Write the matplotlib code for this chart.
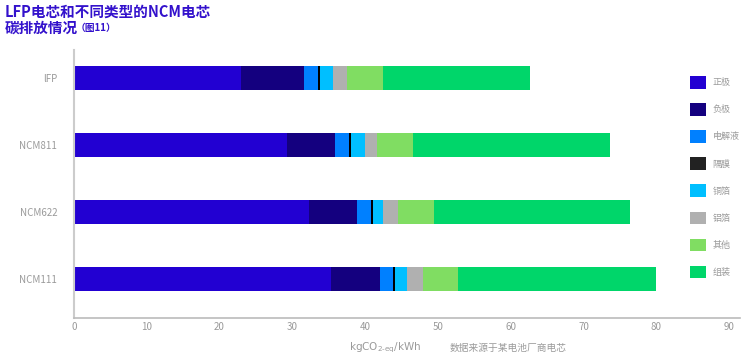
import matplotlib
matplotlib.use("Agg")
import matplotlib.pyplot as plt
from matplotlib.patches import Patch
import numpy as np

plt.rcParams['font.family'] = ['Noto Sans CJK SC', 'DejaVu Sans']

categories = ["lFP", "NCM811", "NCM622", "NCM111"]
components = ["正极", "负极", "电解液", "隔膜", "铜箔", "铝箔", "其他", "组装"]
values = {
    "正极": [23.0, 29.3, 32.3, 35.3],
    "负极": [8.6, 6.55, 6.6, 6.7],
    "电解液": [1.9, 1.95, 1.9, 1.8],
    "隔膜": [0.3, 0.25, 0.3, 0.3],
    "铜箔": [1.8, 1.95, 1.3, 1.6],
    "铝箔": [1.9, 1.6, 2.1, 2.2],
    "其他": [4.9, 5.0, 4.95, 4.8],
    "组装": [20.2, 27.0, 26.95, 27.2],
}
bar_colors = ["#2200D2", "#14007F", "#0080FF", "#000000", "#00BFFF", "#B0B0B0", "#80DD62", "#00D66A"]
legend_colors = ["#2200D2", "#14007F", "#0080FF", "#222222", "#00BFFF", "#B0B0B0", "#80DD62", "#00D66A"]
xticks = [0, 10, 20, 30, 40, 50, 60, 70, 80, 90]

fig = plt.figure(figsize=(7.41, 3.58), dpi=100)
ax = fig.add_axes([74/741, 1-318/358, (740-74)/741, (318-50)/358])

y = np.arange(len(categories))
left = np.zeros(len(categories))
for comp, col in zip(components, bar_colors):
    v = np.array(values[comp])
    ax.barh(y, v, left=left, height=0.36, color=col, linewidth=0)
    left += v

ax.set_xlim(0, 91.5)
ax.set_ylim(3.58, -0.42)
ax.set_yticks(y)
ax.set_yticklabels(categories)
ax.set_xticks(xticks)
ax.tick_params(axis='both', length=0, labelsize=7, labelcolor="#9a9a9a")
ax.tick_params(axis='x', pad=3)
ax.tick_params(axis='y', pad=12)
for s in ["top", "right"]:
    ax.spines[s].set_visible(False)
ax.spines["left"].set_color("#cccccc")
ax.spines["left"].set_linewidth(1.5)
ax.spines["bottom"].set_color("#bbbbbb")
ax.spines["bottom"].set_linewidth(1.2)

handles = [Patch(facecolor=c, edgecolor='none', label=l) for c, l in zip(legend_colors, components)]
leg = fig.legend(handles=handles, loc='upper left', bbox_to_anchor=(690/741, 1-76/358),
                 frameon=False, fontsize=6.5, handlelength=1.78, handleheight=1.78,
                 labelspacing=1.6, handletextpad=0.7, borderaxespad=0, borderpad=0)
for t in leg.get_texts():
    t.set_color("#9a9a9a")

fig.text(5/741, 1-12/358, "LFP电芯和不同类型的NCM电芯", fontsize=10.5, fontweight='bold',
         color="#3311CC", va='center', ha='left')
fig.text(5/741, 1-28/358, "碳排放情况", fontsize=10.5, fontweight='bold',
         color="#3311CC", va='center', ha='left')
fig.text(76/741, 1-28/358, "（图11）", fontsize=7, fontweight='bold',
         color="#3311CC", va='center', ha='left')

fig.text(385/741, 1-348/358, "kgCO$_{2\\text{-eq}}$/kWh", fontsize=7.5, color="#9a9a9a",
         va='center', ha='center', family='DejaVu Sans')
fig.text(450/741, 1-348/358, "数据来源于某电池厂商电芯", fontsize=7, color="#9a9a9a",
         va='center', ha='left')

fig.savefig("out.png", dpi=100)
